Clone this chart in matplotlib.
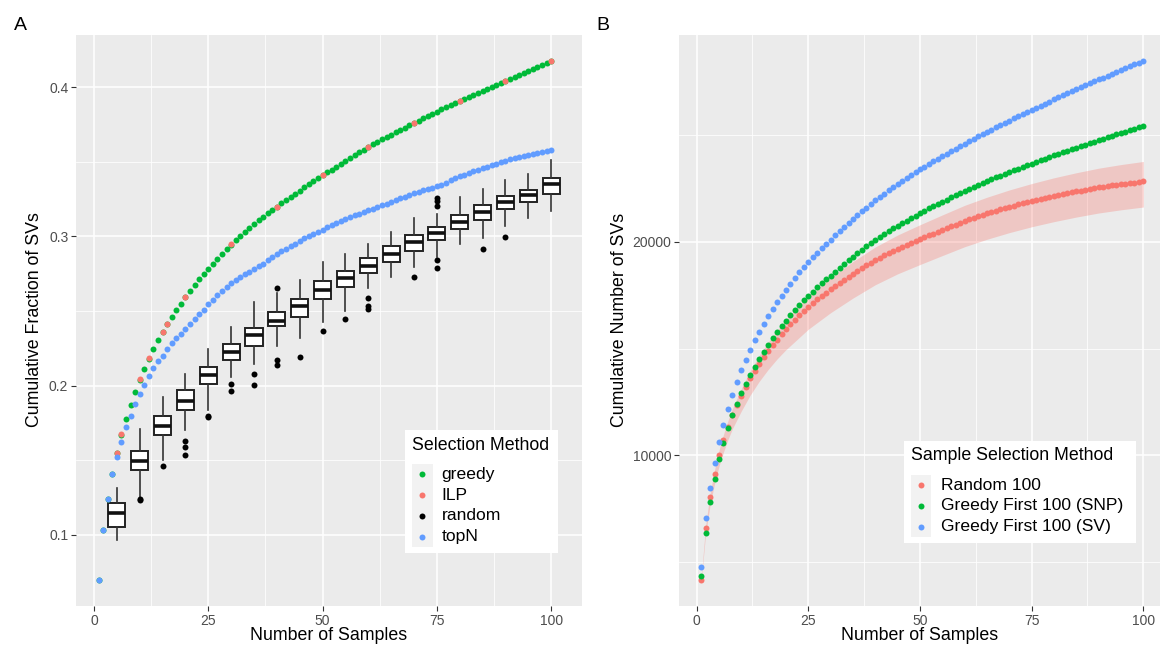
import numpy as np
import matplotlib
matplotlib.use("Agg")
import matplotlib.pyplot as plt
from matplotlib.patches import Rectangle
from matplotlib.lines import Line2D

plt.rcParams['font.family'] = ['Liberation Sans', 'DejaVu Sans']

# ---------------- data: panel A ----------------
n_samples = list(range(1, 101))

greedy = [0.070, 0.103, 0.124, 0.141, 0.155, 0.167, 0.178, 0.187, 0.196, 0.204,
          0.211, 0.218, 0.2245, 0.2305, 0.236, 0.2415, 0.246, 0.2505, 0.255, 0.2595,
          0.2636, 0.2675, 0.2712, 0.2748, 0.2783, 0.2817, 0.2850, 0.2882, 0.2913, 0.2945,
          0.2974, 0.3002, 0.3030, 0.3057, 0.3083, 0.3108, 0.3132, 0.3155, 0.3178, 0.3200,
          0.3222, 0.3244, 0.3265, 0.3286, 0.3307, 0.3328, 0.3349, 0.3369, 0.3389, 0.3409,
          0.3429, 0.3448, 0.3467, 0.3486, 0.3505, 0.3524, 0.3543, 0.3562, 0.3581, 0.3600,
          0.3617, 0.3633, 0.3649, 0.3665, 0.3681, 0.3697, 0.3713, 0.3729, 0.3745, 0.3760,
          0.3775, 0.3790, 0.3805, 0.3820, 0.3835, 0.3850, 0.3865, 0.3880, 0.3895, 0.3910,
          0.3923, 0.3936, 0.3949, 0.3963, 0.3976, 0.3989, 0.4002, 0.4015, 0.4028, 0.4042,
          0.4055, 0.4068, 0.4081, 0.4095, 0.4108, 0.4121, 0.4134, 0.4147, 0.4160, 0.4174]

ilp_x = [5, 6, 10, 12, 15, 16, 20, 30, 40, 50, 60, 70, 80, 90, 100]
ilp = [0.155, 0.1675, 0.2043, 0.2183, 0.2362, 0.2415, 0.2596, 0.2947, 0.320, 0.341,
       0.360, 0.376, 0.391, 0.4042, 0.4174]

topn = [0.070, 0.103, 0.124, 0.1406, 0.1525, 0.1623, 0.1725, 0.180, 0.188, 0.1946,
        0.2005, 0.2063, 0.2116, 0.2163, 0.2201, 0.2246, 0.2284, 0.2317, 0.2348, 0.2382,
        0.2413, 0.2446, 0.2478, 0.2510, 0.2545, 0.2575, 0.2605, 0.2635, 0.2663, 0.2690,
        0.2710, 0.2728, 0.2746, 0.2764, 0.2782, 0.2800, 0.2815, 0.2845, 0.2865, 0.2882,
        0.2900, 0.2918, 0.2935, 0.2952, 0.2970, 0.2987, 0.3002, 0.3016, 0.3030, 0.3045,
        0.3060, 0.3075, 0.3090, 0.3105, 0.3118, 0.3130, 0.3141, 0.3152, 0.3163, 0.3175,
        0.3186, 0.3197, 0.3208, 0.3219, 0.3230, 0.3242, 0.3254, 0.3266, 0.3278, 0.3290,
        0.3299, 0.3308, 0.3317, 0.3326, 0.3335, 0.3345, 0.3358, 0.3380, 0.3392, 0.3403,
        0.3414, 0.3425, 0.3436, 0.3447, 0.3458, 0.3468, 0.3478, 0.3488, 0.3498, 0.3508,
        0.3516, 0.3523, 0.3530, 0.3537, 0.3544, 0.3551, 0.3558, 0.3565, 0.3572, 0.3579]

# random selection: boxplot summaries at every 5 samples
box_x = [5, 10, 15, 20, 25, 30, 35, 40, 45, 50, 55, 60, 65, 70, 75, 80, 85, 90, 95, 100]
box_lo = [0.0967, 0.1256, 0.150, 0.170, 0.1837, 0.206, 0.2143, 0.2268, 0.2322, 0.2425,
          0.2501, 0.2653, 0.273, 0.2792, 0.2864, 0.2952, 0.2989, 0.3067, 0.3124, 0.317]
box_q1 = [0.1054, 0.1435, 0.167, 0.1837, 0.201, 0.217, 0.2266, 0.240, 0.2463, 0.2581,
          0.2659, 0.2757, 0.283, 0.2903, 0.2975, 0.3052, 0.3112, 0.3186, 0.3228, 0.3285]
box_med = [0.1145, 0.1498, 0.173, 0.190, 0.207, 0.2228, 0.234, 0.2436, 0.2534, 0.2642,
           0.2724, 0.2804, 0.2882, 0.2961, 0.302, 0.3097, 0.3165, 0.323, 0.3275, 0.3352]
box_q3 = [0.1214, 0.1565, 0.180, 0.197, 0.2128, 0.228, 0.2389, 0.2496, 0.2579, 0.2702,
          0.277, 0.2853, 0.2935, 0.301, 0.306, 0.3141, 0.3212, 0.3268, 0.3313, 0.3388]
box_hi = [0.1315, 0.171, 0.1922, 0.2078, 0.2245, 0.239, 0.2563, 0.2618, 0.2708, 0.2831,
          0.288, 0.2946, 0.3027, 0.312, 0.3149, 0.3264, 0.3317, 0.3375, 0.342, 0.3513]
box_out = [[], [0.124, 0.1235], [0.146], [0.1627, 0.159, 0.1534], [0.180, 0.179],
           [0.201, 0.1966], [0.2078, 0.2005], [0.2656, 0.2172, 0.2139], [0.2195], [0.2369],
           [0.2447], [0.2586, 0.2534, 0.2512], [], [0.2729],
           [0.3257, 0.3235, 0.3206, 0.2841, 0.279], [], [0.2917], [0.2996], [], []]

# ---------------- data: panel B ----------------
sv_first = [4762, 7039, 8489, 9626, 10622, 11436, 12184, 12820, 13428, 13990,
            14475, 14942, 15379, 15786, 16160, 16534, 16862, 17170, 17470, 17760,
            18040, 18310, 18572, 18827, 19075, 19290, 19500, 19705, 19905, 20103,
            20300, 20495, 20690, 20882, 21071, 21250, 21428, 21603, 21774, 21942,
            22102, 22260, 22417, 22571, 22722, 22860, 22997, 23133, 23267, 23400,
            23525, 23649, 23772, 23894, 24015, 24135, 24254, 24372, 24489, 24605,
            24717, 24828, 24938, 25047, 25155, 25262, 25368, 25473, 25577, 25680,
            25781, 25882, 25982, 26082, 26181, 26280, 26378, 26476, 26573, 26670,
            26766, 26861, 26956, 27051, 27145, 27239, 27332, 27425, 27517, 27609,
            27697, 27785, 27873, 27961, 28049, 28137, 28225, 28313, 28401, 28489]

snp_first = [4355, 6338, 7802, 8910, 9813, 10592, 11263, 11870, 12420, 12910,
             13353, 13760, 14150, 14510, 14850, 15170, 15475, 15760, 16035, 16300,
             16550, 16795, 17030, 17255, 17470, 17668, 17862, 18052, 18238, 18419,
             18600, 18778, 18953, 19126, 19296, 19464, 19630, 19792, 19950, 20105,
             20240, 20373, 20503, 20628, 20750, 20872, 20993, 21114, 21233, 21350,
             21458, 21565, 21671, 21776, 21880, 21982, 22083, 22183, 22282, 22380,
             22474, 22567, 22659, 22750, 22840, 22928, 23015, 23101, 23186, 23270,
             23352, 23433, 23513, 23592, 23670, 23747, 23824, 23900, 23975, 24050,
             24123, 24196, 24268, 24339, 24410, 24480, 24550, 24620, 24690, 24760,
             24828, 24896, 24964, 25032, 25100, 25167, 25234, 25301, 25368, 25434]

random_mean = [4154, 6572, 8036, 9111, 10000, 10716, 11342, 11885, 12354, 12792,
               13213, 13601, 13960, 14289, 14598, 14885, 15159, 15420, 15670, 15908,
               16135, 16355, 16565, 16765, 16955, 17130, 17300, 17465, 17625, 17780,
               17932, 18080, 18224, 18364, 18500, 18634, 18766, 18896, 19024, 19150,
               19262, 19370, 19476, 19579, 19680, 19772, 19863, 19953, 20042, 20130,
               20217, 20304, 20390, 20475, 20560, 20644, 20728, 20812, 20896, 20980,
               21052, 21123, 21193, 21262, 21330, 21394, 21457, 21519, 21580, 21640,
               21696, 21751, 21805, 21858, 21910, 21960, 22009, 22057, 22104, 22150,
               22193, 22236, 22278, 22319, 22360, 22399, 22438, 22476, 22513, 22550,
               22581, 22612, 22642, 22671, 22700, 22727, 22753, 22779, 22805, 22830]

band_x = [1, 2, 3, 4, 5, 6, 7, 8, 10, 12, 14, 16, 18, 20, 25, 30, 35, 40, 45, 50,
          55, 60, 65, 70, 75, 80, 85, 90, 95, 100]
band_hi = [4204, 6692, 8206, 9311, 10230, 10971, 11617, 12180, 13122, 13961, 14674,
           15295, 15850, 16358, 17455, 18320, 19075, 19760, 20320, 20800, 21260, 21710,
           22090, 22430, 22730, 23000, 23237, 23450, 23620, 23765]
band_lo = [4054, 6292, 7656, 8661, 9480, 10146, 10732, 11240, 12072, 12821, 13459,
           14015, 14510, 14948, 15905, 16680, 17365, 17990, 18500, 18935, 19355, 19770,
           20120, 20430, 20705, 20945, 21160, 21350, 21500, 21630]

# ---------------- style ----------------
W, H = 1160, 649
RED, GREEN, BLUE = '#F8766D', '#00BA38', '#619CFF'
MS = 4.3

fig = plt.figure(figsize=(W / 100, H / 100), dpi=100)


def fx(x):
    return x / W


def fy(y):
    return 1 - y / H


def gg_axes(left, top, right, bottom):
    ax = fig.add_axes([fx(left), fy(bottom), fx(right) - fx(left), fy(top) - fy(bottom)])
    ax.set_facecolor('#EBEBEB')
    for s in ax.spines.values():
        s.set_visible(False)
    ax.grid(True, which='major', color='white', linewidth=1.1, zorder=0)
    ax.grid(True, which='minor', color='white', linewidth=0.55, zorder=0)
    ax.set_axisbelow(True)
    ax.tick_params(which='major', length=3.5, width=0.8, color='#333333',
                   labelcolor='#4D4D4D', labelsize=10, pad=2)
    ax.tick_params(which='minor', length=0)
    return ax


def gg_legend(box, title, title_xy, keybox, pt_x, pt_ys, text_x, labels, colors):
    x0, y0, x1, y1 = box
    fig.add_artist(Rectangle((fx(x0), fy(y1)), fx(x1) - fx(x0), fy(y0) - fy(y1),
                             transform=fig.transFigure, facecolor='white',
                             edgecolor='none', zorder=5))
    kx0, ky0, kx1, ky1 = keybox
    fig.add_artist(Rectangle((fx(kx0), fy(ky1)), fx(kx1) - fx(kx0), fy(ky0) - fy(ky1),
                             transform=fig.transFigure, facecolor='#F2F2F2',
                             edgecolor='none', zorder=6))
    fig.text(fx(title_xy[0]), fy(title_xy[1]), title, fontsize=12.8,
             ha='left', va='center', zorder=7)
    for yy, lab, c in zip(pt_ys, labels, colors):
        fig.add_artist(Line2D([fx(pt_x)], [fy(yy)], transform=fig.transFigure,
                              marker='o', ms=MS, color=c, mec='none', linestyle='none',
                              zorder=7))
        fig.text(fx(text_x), fy(yy), lab, fontsize=12.6, ha='left', va='center', zorder=7)


# ---------------- panel A ----------------
axA = gg_axes(76, 35, 582.3, 606)
axA.plot(n_samples, greedy, 'o', color=GREEN, ms=MS, mec='none', zorder=3)
axA.plot(ilp_x, ilp, 'o', color=RED, ms=MS, mec='none', zorder=3)
axA.plot(n_samples, topn, 'o', color=BLUE, ms=MS, mec='none', zorder=3)

stats = []
for i in range(len(box_x)):
    stats.append(dict(med=box_med[i], q1=box_q1[i], q3=box_q3[i],
                      whislo=box_lo[i], whishi=box_hi[i], fliers=box_out[i]))
axA.bxp(stats, positions=box_x, widths=3.75, manage_ticks=False, patch_artist=True,
        boxprops=dict(facecolor='white', edgecolor='#222222', linewidth=1.4),
        medianprops=dict(color='#111111', linewidth=2.6),
        whiskerprops=dict(color='#333333', linewidth=1.2),
        capprops=dict(linewidth=0),
        flierprops=dict(marker='o', markerfacecolor='black', markeredgecolor='none',
                        markersize=MS))

axA.set_xlim(-3.94, 106.8)
axA.set_ylim(0.0524, 0.4349)
axA.set_xticks([0, 25, 50, 75, 100])
axA.set_xticks([12.5, 37.5, 62.5, 87.5], minor=True)
axA.set_yticks([0.1, 0.2, 0.3, 0.4])
axA.set_yticklabels(['0.1', '0.2', '0.3', '0.4'])
axA.set_yticks([0.15, 0.25, 0.35], minor=True)

# ---------------- panel B ----------------
axB = gg_axes(679, 35, 1160, 606)
axB.fill_between(band_x, band_lo, band_hi, color=RED, alpha=0.3, linewidth=0, zorder=2)
axB.plot(n_samples, random_mean, 'o', color=RED, ms=MS, mec='none', zorder=3)
axB.plot(n_samples, snp_first, 'o', color=GREEN, ms=MS, mec='none', zorder=3)
axB.plot(n_samples, sv_first, 'o', color=BLUE, ms=MS, mec='none', zorder=3)
axB.set_xlim(-3.95, 103.74)
axB.set_ylim(2937, 29691)
axB.set_xticks([0, 25, 50, 75, 100])
axB.set_xticks([12.5, 37.5, 62.5, 87.5], minor=True)
axB.set_yticks([10000, 20000])
axB.set_yticklabels(['10000', '20000'])
axB.set_yticks([5000, 15000, 25000], minor=True)

# ---------------- labels ----------------
fig.text(fx(35), fy(320), 'Cumulative Fraction of SVs', rotation=90,
         fontsize=12.8, ha='center', va='center')
fig.text(fx(620), fy(320), 'Cumulative Number of SVs', rotation=90,
         fontsize=12.8, ha='center', va='center')
fig.text(fx(329), fy(635), 'Number of Samples', fontsize=12.8, ha='center', va='center')
fig.text(fx(920), fy(635), 'Number of Samples', fontsize=12.8, ha='center', va='center')
fig.text(fx(20), fy(25), 'A', fontsize=14, ha='center', va='center')
fig.text(fx(603), fy(25), 'B', fontsize=14, ha='center', va='center')

gg_legend((405, 430, 558, 553), 'Selection Method', (412, 446),
          (412, 464, 433, 547), 421.7, [474.3, 495.3, 516, 536.7], 441.7,
          ['greedy', 'ILP', 'random', 'topN'], [GREEN, RED, 'black', BLUE])
gg_legend((904, 441, 1136, 543), 'Sample Selection Method', (911, 456),
          (911, 475, 931, 537), 921, [485, 505.7, 526.7], 940.7,
          ['Random 100', 'Greedy First 100 (SNP)', 'Greedy First 100 (SV)'],
          [RED, GREEN, BLUE])

fig.savefig('out.png', dpi=100)
